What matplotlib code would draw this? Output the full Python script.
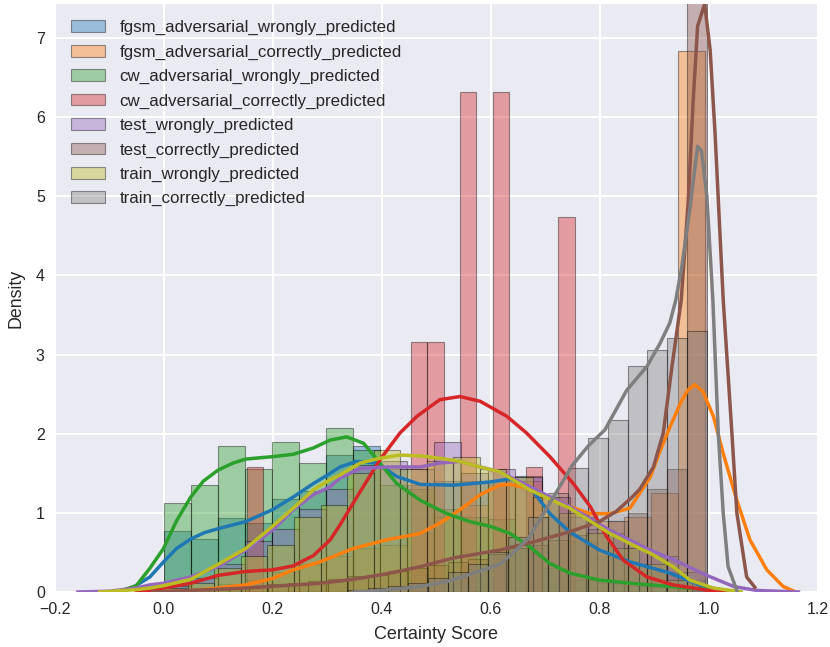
import numpy as np
import matplotlib
matplotlib.use("Agg")
import matplotlib.pyplot as plt

plt.rcParams['font.family'] = ['Liberation Sans', 'DejaVu Sans']

labels = ["fgsm_adversarial_wrongly_predicted", "fgsm_adversarial_correctly_predicted",
          "cw_adversarial_wrongly_predicted", "cw_adversarial_correctly_predicted",
          "test_wrongly_predicted", "test_correctly_predicted",
          "train_wrongly_predicted", "train_correctly_predicted"]
colors = ["#1f77b4", "#ff7f0e", "#2ca02c", "#d62728", "#9467bd", "#8c564b", "#bcbd22", "#7f7f7f"]

# ---- histogram data: (first edge, bin width, densities) ----
fgsm_wrong_hist = (0.001, 0.0496, [0.77, 0.67, 0.93, 0.87, 1.18, 1.28, 1.73, 1.84, 1.55, 1.35,
                                   1.40, 1.40, 1.40, 1.46, 0.95, 0.65, 0.45, 0.35, 0.25, 0.15])
fgsm_correct_hist = (0.001, 0.0496, [0.03, 0.05, 0.10, 0.15, 0.25, 0.35, 0.45, 0.55, 0.60, 0.75,
                                     0.95, 1.10, 1.35, 1.40, 1.20, 1.00, 0.90, 0.95, 1.25, 6.83])
cw_wrong_hist = (0.001, 0.0496, [1.13, 1.35, 1.85, 1.56, 1.90, 1.63, 2.07, 1.80, 1.35, 1.30,
                                 1.05, 0.95, 0.92, 0.55, 0.30, 0.15, 0.12, 0.08, 0.06, 0.04])
cw_correct_hist = (0.1527, 0.0301, [1.58, 0, 0, 0, 0, 0, 0, 0, 0, 0,
                                    3.16, 3.16, 0, 6.32, 0, 6.32, 0, 1.58, 0, 4.74])
test_wrong_hist = (0.001, 0.0496, [0.08, 0.18, 0.35, 0.64, 0.80, 1.05, 1.30, 1.60, 1.65, 1.55,
                                   1.89, 1.50, 1.55, 1.45, 1.20, 0.95, 0.75, 0.55, 0.45, 0.25])
test_correct_hist = (0.0096, 0.0366, [0.02, 0.03, 0.04, 0.06, 0.08, 0.10, 0.12, 0.14, 0.16, 0.20,
                                      0.22, 0.26, 0.30, 0.34, 0.38, 0.42, 0.48, 0.55, 0.60, 0.66,
                                      0.72, 0.80, 0.90, 1.00, 1.30, 1.55, 15.8])
train_wrong_hist = (-0.004, 0.0487, [0.05, 0.12, 0.30, 0.45, 0.60, 0.95, 1.10, 1.50, 1.80, 1.55,
                                     1.65, 1.70, 1.55, 1.45, 1.20, 1.00, 0.75, 0.55, 0.35, 0.15])
train_correct_hist = (0.339, 0.0366, [0.03, 0.05, 0.08, 0.12, 0.18, 0.25, 0.35, 0.50, 0.70, 0.95,
                                      1.25, 1.57, 1.95, 2.17, 2.86, 3.06, 3.21, 3.30])

# ---- KDE curves ----
fgsm_wrong_kx = [-0.09, -0.06, -0.025, 0.0, 0.024, 0.05, 0.075, 0.10, 0.151, 0.20, 0.238, 0.275, 0.306,
                 0.324, 0.354, 0.391, 0.428, 0.471, 0.532, 0.599, 0.636, 0.672, 0.709, 0.745, 0.80,
                 0.856, 0.929, 0.984, 1.02, 1.058]
fgsm_wrong_ky = [0.0, 0.04, 0.19, 0.38, 0.55, 0.67, 0.75, 0.80, 0.89, 1.04, 1.20, 1.37, 1.50,
                 1.58, 1.65, 1.63, 1.46, 1.36, 1.35, 1.39, 1.43, 1.33, 0.99, 0.76, 0.53,
                 0.38, 0.24, 0.09, 0.03, 0.0]
fgsm_correct_kx = [-0.01, 0.055, 0.10, 0.151, 0.20, 0.238, 0.287, 0.348, 0.41, 0.471, 0.507, 0.544,
                   0.581, 0.617, 0.636, 0.672, 0.709, 0.745, 0.783, 0.819, 0.856, 0.874, 0.893, 0.911,
                   0.929, 0.948, 0.962, 0.975, 0.99, 1.009, 1.027, 1.052, 1.076, 1.107, 1.137, 1.16]
fgsm_correct_ky = [0.0, 0.02, 0.05, 0.09, 0.17, 0.28, 0.38, 0.55, 0.66, 0.74, 0.87, 1.04,
                   1.23, 1.35, 1.36, 1.31, 1.20, 1.08, 0.99, 0.99, 1.06, 1.25, 1.45, 1.78,
                   2.08, 2.38, 2.55, 2.62, 2.53, 2.22, 1.75, 1.16, 0.66, 0.28, 0.07, 0.0]
cw_wrong_kx = [-0.085, -0.05, -0.025, 0.0, 0.024, 0.05, 0.073, 0.10, 0.128, 0.151, 0.20, 0.238, 0.275,
               0.306, 0.336, 0.367, 0.397, 0.428, 0.471, 0.52, 0.562, 0.599, 0.636, 0.672, 0.709,
               0.745, 0.80, 0.874, 0.929, 1.0, 1.05]
cw_wrong_ky = [0.0, 0.08, 0.30, 0.55, 0.90, 1.20, 1.40, 1.54, 1.63, 1.68, 1.71, 1.74, 1.82,
               1.92, 1.96, 1.88, 1.63, 1.37, 1.16, 0.99, 0.89, 0.83, 0.74, 0.57, 0.36,
               0.24, 0.15, 0.10, 0.07, 0.03, 0.0]
cw_correct_kx = [-0.05, -0.025, 0.0, 0.05, 0.10, 0.151, 0.20, 0.238, 0.275, 0.306, 0.324, 0.361,
                 0.397, 0.434, 0.465, 0.507, 0.544, 0.581, 0.630, 0.666, 0.709, 0.752, 0.783,
                 0.813, 0.844, 0.887, 0.935, 0.972, 1.0, 1.03]
cw_correct_ky = [0.0, 0.02, 0.05, 0.11, 0.21, 0.26, 0.28, 0.33, 0.46, 0.66, 0.85, 1.27,
                 1.67, 2.01, 2.22, 2.43, 2.47, 2.41, 2.22, 2.01, 1.71, 1.37, 1.08,
                 0.70, 0.40, 0.19, 0.09, 0.05, 0.02, 0.0]
test_wrong_kx = [-0.157, -0.1, -0.05, -0.025, 0.0, 0.05, 0.10, 0.151, 0.20, 0.238, 0.275, 0.306,
                 0.324, 0.361, 0.41, 0.471, 0.507, 0.544, 0.581, 0.617, 0.672, 0.745, 0.819,
                 0.893, 0.932, 0.997, 1.046, 1.088, 1.165]
test_wrong_ky = [0.0, 0.01, 0.05, 0.09, 0.11, 0.19, 0.32, 0.53, 0.78, 1.04, 1.23, 1.33,
                 1.44, 1.56, 1.58, 1.58, 1.63, 1.65, 1.58, 1.52, 1.33, 1.08, 0.78,
                 0.53, 0.42, 0.21, 0.07, 0.02, 0.0]
test_correct_kx = [-0.02, 0.05, 0.151, 0.287, 0.348, 0.41, 0.471, 0.532, 0.617, 0.672, 0.745, 0.80,
                   0.831, 0.86, 0.874, 0.899, 0.917, 0.933, 0.95, 0.963, 0.972, 0.98, 0.993, 1.003,
                   1.012, 1.021, 1.027, 1.043, 1.052, 1.07, 1.085]
test_correct_ky = [0.0, 0.02, 0.05, 0.11, 0.16, 0.23, 0.32, 0.43, 0.53, 0.62, 0.76, 0.89,
                   1.02, 1.20, 1.30, 1.58, 2.01, 2.85, 3.69, 4.96, 6.22, 7.15, 7.43, 6.85,
                   5.80, 4.53, 3.69, 2.00, 1.00, 0.19, 0.06]
train_wrong_kx = [-0.117, -0.05, -0.025, 0.0, 0.05, 0.10, 0.151, 0.20, 0.238, 0.275, 0.306, 0.324,
                  0.361, 0.397, 0.434, 0.471, 0.507, 0.544, 0.581, 0.617, 0.672, 0.745, 0.819,
                  0.874, 0.893, 0.935, 0.966, 1.009, 1.06]
train_wrong_ky = [0.0, 0.03, 0.05, 0.08, 0.16, 0.35, 0.55, 0.83, 1.06, 1.29, 1.42, 1.48,
                  1.63, 1.69, 1.73, 1.72, 1.69, 1.65, 1.58, 1.52, 1.29, 1.06, 0.74,
                  0.55, 0.49, 0.32, 0.15, 0.05, 0.0]
train_correct_kx = [0.35, 0.40, 0.47, 0.52, 0.57, 0.617, 0.65, 0.67, 0.69, 0.72, 0.75, 0.78, 0.81,
                    0.85, 0.887, 0.911, 0.929, 0.94, 0.951, 0.965, 0.98, 0.987, 0.997, 1.008,
                    1.018, 1.027, 1.036, 1.052]
train_correct_ky = [0.0, 0.02, 0.07, 0.13, 0.24, 0.35, 0.55, 0.68, 0.91, 1.25, 1.60, 1.85, 2.05,
                    2.55, 2.85, 3.14, 3.40, 3.69, 4.11, 4.80, 5.63, 5.58, 5.00, 3.69,
                    2.00, 1.00, 0.32, 0.02]

hists = [fgsm_wrong_hist, fgsm_correct_hist, cw_wrong_hist, cw_correct_hist,
         test_wrong_hist, test_correct_hist, train_wrong_hist, train_correct_hist]
kdes = [(fgsm_wrong_kx, fgsm_wrong_ky), (fgsm_correct_kx, fgsm_correct_ky),
        (cw_wrong_kx, cw_wrong_ky), (cw_correct_kx, cw_correct_ky),
        (test_wrong_kx, test_wrong_ky), (test_correct_kx, test_correct_ky),
        (train_wrong_kx, train_wrong_ky), (train_correct_kx, train_correct_ky)]

fig = plt.figure(figsize=(8.30, 6.47), dpi=100)
ax = fig.add_axes([54.5 / 830, 1 - 592 / 647, (817.5 - 54.5) / 830, (592 - 4) / 647])
ax.set_facecolor("#EAEAF2")
ax.set_axisbelow(True)
ax.grid(True, color="white", linewidth=1.4)
for s in ax.spines.values():
    s.set_visible(False)

for (start, w, heights), (kx, ky), col, lab in zip(hists, kdes, colors, labels):
    h = np.array(heights, dtype=float)
    lefts = start + w * np.arange(len(h))
    mask = h > 0
    ax.bar(lefts[mask], h[mask], width=w, align="edge", color=col, alpha=0.4,
           edgecolor="black", linewidth=0.8, label=lab)
    ax.plot(kx, ky, color=col, linewidth=2.5, solid_joinstyle="round")

ax.set_xlim(-0.2, 1.2)
ax.set_ylim(0, 7.43)
ax.set_xticks(np.arange(-0.2, 1.21, 0.2))
ax.set_xticklabels(["\u22120.2", "0.0", "0.2", "0.4", "0.6", "0.8", "1.0", "1.2"])
ax.set_yticks(range(0, 8))
ax.tick_params(length=0, labelsize=11.5, colors="#262626", pad=7)
ax.set_xlabel("Certainty Score", fontsize=13, color="#262626", labelpad=7)
ax.set_ylabel("Density", fontsize=12.8, color="#262626", labelpad=8)

leg = ax.legend(loc="upper left", fontsize=12.2, frameon=False, handlelength=2.05,
                labelspacing=0.55, borderaxespad=0.55, handletextpad=0.85, borderpad=0.4)
for t in leg.get_texts():
    t.set_color("#262626")

fig.savefig("out.png", dpi=100)
